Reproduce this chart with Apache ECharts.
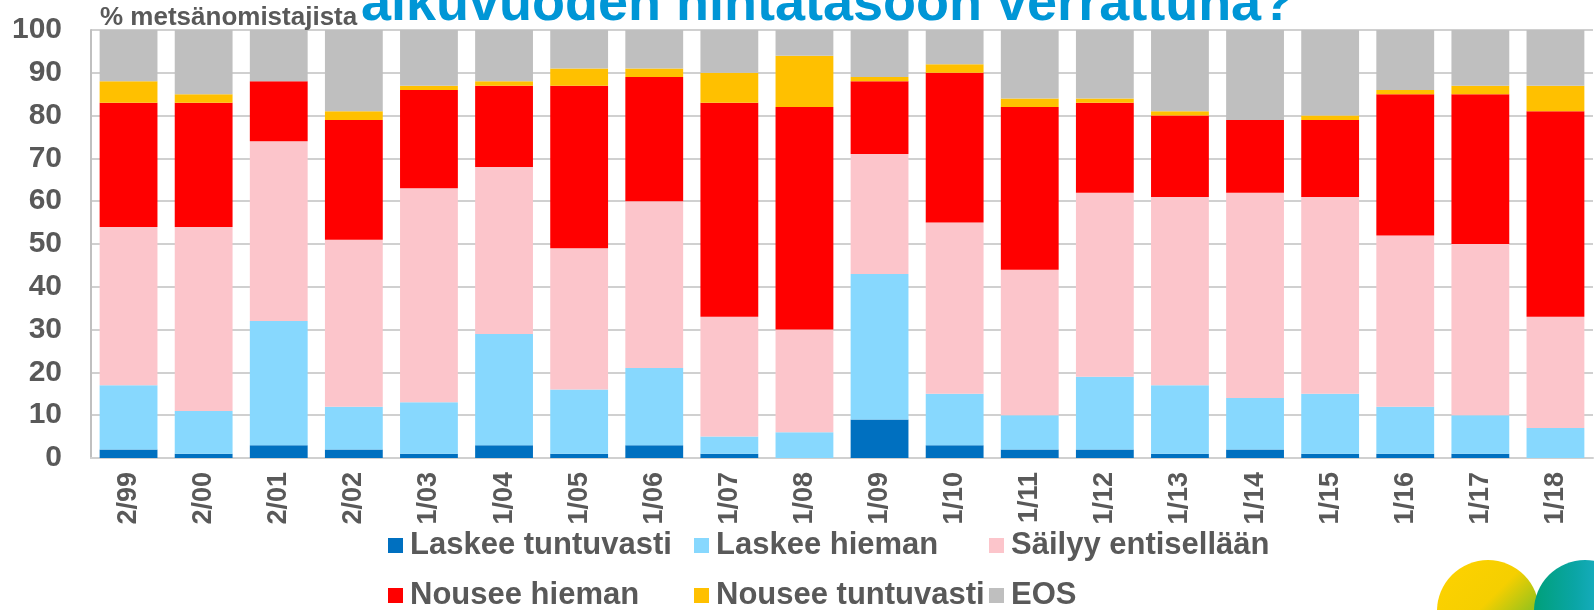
<!DOCTYPE html>
<html>
<head>
<meta charset="utf-8">
<script src="https://cdn.jsdelivr.net/npm/echarts@6/dist/echarts.min.js"></script>
<style>
html,body{margin:0;padding:0;background:#fff;}
#chart{width:1594px;height:610px;}
</style>
</head>
<body>
<div id="chart"></div>
<script>
const categories = ['2/99','2/00','2/01','2/02','1/03','1/04','1/05','1/06','1/07','1/08','1/09','1/10','1/11','1/12','1/13','1/14','1/15','1/16','1/17','1/18'];
const laskeeTuntuvasti = [2,1,3,2,1,3,1,3,1,0,9,3,2,2,1,2,1,1,1,0];
const laskeeHieman     = [15,10,29,10,12,26,15,18,4,6,34,12,8,17,16,12,14,11,9,7];
const sailyy           = [37,43,42,39,50,39,33,39,28,24,28,40,34,43,44,48,46,40,40,26];
const nouseeHieman     = [29,29,14,28,23,19,38,29,50,52,17,35,38,21,19,17,18,33,35,48];
const nouseeTuntuvasti = [5,2,0,2,1,1,4,2,7,12,1,2,2,1,1,0,1,1,2,6];
const eos              = [12,15,12,19,13,12,9,9,10,6,11,8,16,16,19,21,20,14,13,13];
const yTicks = [0,10,20,30,40,50,60,70,80,90,100];
const seriesNames = ['Laskee tuntuvasti','Laskee hieman','Säilyy entisellään','Nousee hieman','Nousee tuntuvasti','EOS'];
const seriesData = [laskeeTuntuvasti, laskeeHieman, sailyy, nouseeHieman, nouseeTuntuvasti, eos];
const colors = ['#0070C0','#87D8FE','#FCC5CB','#FF0000','#FFC000','#BFBFBF'];

const FONT = '"Liberation Sans", Arial, sans-serif';
const GRAY = '#595959';

const chart = echarts.init(document.getElementById('chart'), null, {renderer:'canvas'});

const legendPos = [
  {left:388, top:530}, {left:694, top:530}, {left:989, top:530},
  {left:388, top:580}, {left:694, top:580}, {left:989, top:580}
];

const option = {
  animation:false,
  color: colors,
  grid:{left:91, right:1, top:30, bottom:152, containLabel:false},
  legend: seriesNames.map((n,i)=>({
    data:[n], left:legendPos[i].left, top:legendPos[i].top,
    icon:'rect', itemWidth:15, itemHeight:15, padding:0,
    selectedMode:false,
    textStyle:{fontFamily:FONT, fontSize:31, fontWeight:'bold', color:GRAY, padding:[0,0,0,2]}
  })),
  xAxis:{
    type:'category', data:categories,
    axisLine:{show:true, lineStyle:{color:'#D0D0D0', width:2}},
    axisTick:{show:false},
    axisLabel:{rotate:90, margin:14, fontFamily:FONT, fontSize:27, fontWeight:'bold', color:GRAY}
  },
  yAxis:{
    type:'value', min:0, max:100, interval:10,
    axisLine:{show:true, lineStyle:{color:'#C0C0C0', width:2}},
    axisTick:{show:false},
    splitLine:{show:true, lineStyle:{color:'#C0C0C0', width:1.5}},
    axisLabel:{margin:29, fontFamily:FONT, fontSize:30, fontWeight:'bold', color:GRAY,
      formatter:(v)=> yTicks.includes(v) ? String(v) : ''}
  },
  series: seriesNames.map((n,i)=>({
    name:n, type:'bar', stack:'total', data:seriesData[i],
    barCategoryGap:'23%',
    itemStyle:{color:colors[i]}
  })),
  graphic:[
    {type:'text', left:100, top:5, z:10,
      style:{text:'% metsänomistajista', fontFamily:FONT, fontSize:26, fontWeight:'bold', fill:GRAY}},
    {type:'text', x:361, y:5, z:10,
      style:{text:'alkuvuoden hintatasoon verrattuna?', fontFamily:FONT, fontSize:54, fontWeight:'bold', fill:'#0096D6', textVerticalAlign:'middle'}},
    {type:'circle', z:10, shape:{cx:1488, cy:611, r:51},
      style:{fill:new echarts.graphic.LinearGradient(0,0,1,1,[
        {offset:0, color:'#FFD200'},{offset:0.45, color:'#F5CF00'},{offset:0.7, color:'#9CC31A'},{offset:1, color:'#5BAE2E'}])}},
    {type:'circle', z:11, shape:{cx:1585, cy:611, r:51},
      style:{fill:new echarts.graphic.LinearGradient(0,0,1,0,[
        {offset:0, color:'#00A07A'},{offset:0.4, color:'#0AA5A5'},{offset:1, color:'#2BB8E8'}])}}
  ]
};
chart.setOption(option);
</script>
</body>
</html>
